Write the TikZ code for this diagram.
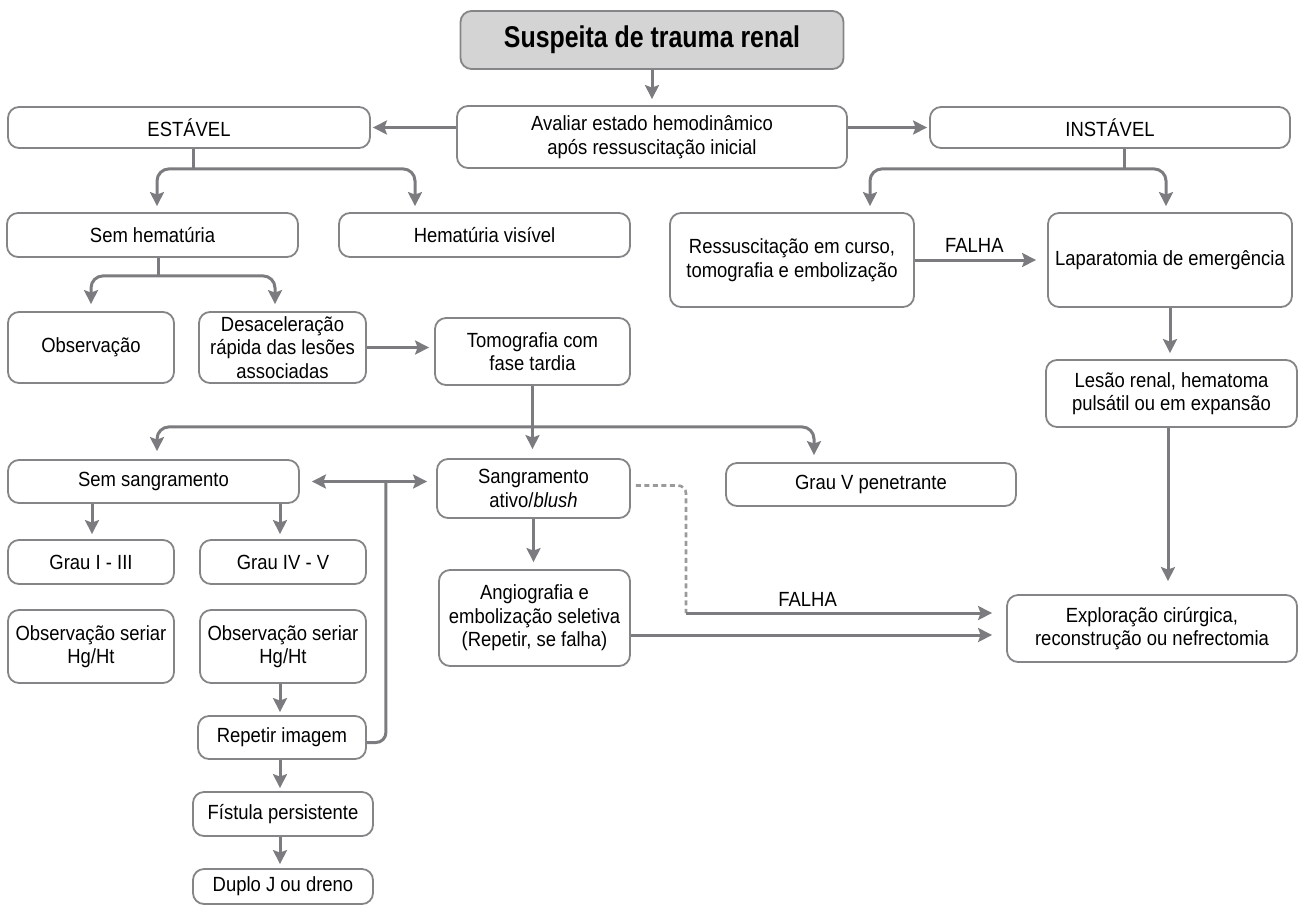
\documentclass[tikz,border=0pt]{standalone}
\usepackage{fontspec}
\setmainfont{Liberation Sans}[FakeStretch=0.9]
\newfontfamily\titlefont{Liberation Sans}[FakeStretch=0.83]
\usetikzlibrary{arrows.meta}
\definecolor{lc}{HTML}{7C7C80}
\definecolor{bc}{HTML}{858588}
\definecolor{dc}{HTML}{9A9A9D}
\definecolor{tf}{HTML}{D4D4D4}
\begin{document}
\begin{tikzpicture}[x=1pt,y=-1pt,
  box/.style={draw=bc, line width=1.8pt, rounded corners=11pt, align=center, inner sep=0pt,
    font=\fontsize{20.5}{23.5}\selectfont, text=black},
  ln/.style={draw=lc, line width=3pt},
  arr/.style={ln, -{Stealth[length=14pt,width=14pt,inset=2.5pt]}},
  rc/.style={rounded corners=12pt},
  lbl/.style={font=\fontsize{20.5}{23.5}\selectfont, inner sep=2pt}
]
\useasboundingbox (0,0) rectangle (1298,906);

% nodes
\node[box, fill=tf, minimum width=383pt, minimum height=58pt, font=\titlefont\bfseries\fontsize{30}{34}\selectfont] (top) at (652,40) {Suspeita de trauma renal};
\node[box, minimum width=390pt, minimum height=62pt] (aval) at (652,137) {Avaliar estado hemodinâmico\\após ressuscitação inicial};
\node[box, minimum width=362pt, minimum height=41pt] (est) at (189,127.5) {ESTÁVEL};
\node[box, minimum width=360pt, minimum height=41pt] (inst) at (1110,127.5) {INSTÁVEL};
\node[box, minimum width=291pt, minimum height=44pt] (semhem) at (152.5,235) {Sem hematúria};
\node[box, minimum width=291pt, minimum height=44pt] (hemvis) at (484.5,235) {Hematúria visível};
\node[box, minimum width=244pt, minimum height=94pt] (ress) at (792,260) {Ressuscitação em curso,\\tomografia e embolização};
\node[box, minimum width=244pt, minimum height=94pt] (lap) at (1170,260) {Laparatomia de emergência};
\node[box, minimum width=166pt, minimum height=71pt] (obs) at (91,347.5) {Observação};
\node[box, minimum width=167pt, minimum height=71pt] (desac) at (282.5,347.5) {Desaceleração\\rápida das lesões\\associadas};
\node[box, minimum width=195pt, minimum height=67pt] (tomo) at (532.5,351.5) {Tomografia com\\fase tardia};
\node[box, minimum width=251pt, minimum height=67pt] (lesao) at (1171.5,393.5) {Lesão renal, hematoma\\pulsátil ou em expansão};
\node[box, minimum width=291pt, minimum height=43pt] (semsang) at (153.5,481.5) {Sem sangramento};
\node[box, minimum width=193pt, minimum height=59pt] (sang) at (533.5,488.5) {Sangramento\\ativo/\textit{blush}};
\node[box, minimum width=290pt, minimum height=43pt] (grauv) at (871,484.5) {Grau V penetrante};
\node[box, minimum width=166pt, minimum height=44pt] (g13) at (91,562) {Grau I - III};
\node[box, minimum width=166pt, minimum height=44pt] (g45) at (283,562) {Grau IV - V};
\node[box, minimum width=166pt, minimum height=73pt] (os1) at (91,646.5) {Observação seriar\\Hg/Ht};
\node[box, minimum width=166pt, minimum height=73pt] (os2) at (283,646.5) {Observação seriar\\Hg/Ht};
\node[box, minimum width=191pt, minimum height=96pt] (angio) at (534.5,618) {Angiografia e\\embolização seletiva\\(Repetir, se falha)};
\node[box, minimum width=290pt, minimum height=67pt] (expl) at (1152,628.5) {Exploração cirúrgica,\\reconstrução ou nefrectomia};
\node[box, minimum width=168pt, minimum height=43pt] (rep) at (282,737.5) {Repetir imagem};
\node[box, minimum width=180pt, minimum height=44pt] (fist) at (283,814) {Fístula persistente};
\node[box, minimum width=180pt, minimum height=35pt] (duplo) at (283,886.5) {Duplo J ou dreno};

% top
\draw[arr, shorten >=6pt] (top.south) -- (top.south |- aval.north);
\draw[arr, shorten >=2pt] (aval.west |- est.east) -- (est.east);
\draw[arr, shorten >=2pt] (aval.east |- inst.west) -- (inst.west);

% estavel branch
\draw[ln] ([xshift=4pt]est.south) -- ++(0,20) coordinate (j1);
\draw[arr, rc, shorten >=6pt] (j1) -| ([xshift=4.5pt]semhem.north);
\draw[arr, rc, shorten >=6pt] (j1) -| ([xshift=-69.5pt]hemvis.north);

% sem hematuria branch
\draw[ln] ([xshift=5.5pt]semhem.south) -- ++(0,18) coordinate (j2);
\draw[arr, rc, shorten >=7pt] (j2) -| (obs.north);
\draw[arr, rc, shorten >=7pt] (j2) -| ([xshift=-7.5pt]desac.north);

% instavel branch
\draw[ln] ([xshift=14pt]inst.south) -- ++(0,20) coordinate (j3);
\draw[arr, rc, shorten >=6pt] (j3) -| ([xshift=78pt]ress.north);
\draw[arr, rc, shorten >=6pt] (j3) -| ([xshift=-4pt]lap.north);

\draw[arr, shorten >=11pt] (ress.east) -- (ress.east -| lap.west)
  node[lbl, pos=0.45, above=4pt] (f1) {FALHA};
\draw[arr, shorten >=6pt] (lap.south) -- (lap.south |- lesao.north);
\draw[arr, shorten >=13pt] ([xshift=-3.5pt]lesao.south) -- ([xshift=16pt]expl.north);

% desaceleracao -> tomografia
\draw[arr, shorten >=5pt] (desac.east) -- (desac.east -| tomo.west);

% tomografia branch
\draw[arr, shorten >=9pt] (tomo.south) -- (tomo.south |- sang.north);
\path (tomo.south) ++(0,41) coordinate (j4);
\draw[arr, rc, shorten >=8pt] (j4) -| ([xshift=3.5pt]semsang.north);
\draw[arr, rc, shorten >=7pt] (j4) -| ([xshift=-57pt]grauv.north);

% two-way arrow and loop from repetir imagem
\path (semsang.east) ++(86,0) coordinate (j5);
\draw[arr, shorten >=12pt] (j5) -- (semsang.east);
\draw[arr, shorten >=9pt] (j5) -- (j5 -| sang.west);
\draw[ln, rounded corners=10pt] ([yshift=-5pt]rep.east) -| (j5);

% sangramento -> angiografia
\draw[arr, shorten >=7pt] (sang.south) -- (sang.south |- angio.north);

% dashed failure path
\coordinate (fk) at (686,613);
\draw[draw=dc, line width=2.6pt, dash pattern=on 5pt off 3.5pt, rounded corners=8pt]
  ([xshift=5pt,yshift=3pt]sang.east) -| (fk);
\draw[arr, shorten >=14pt] (fk) -- (fk -| expl.west)
  node[lbl, pos=0.38, above=3pt] (f2) {FALHA};

% angiografia -> exploracao
\path ([yshift=-17pt]angio.east) coordinate (a2);
\draw[arr, shorten >=14pt] (a2) -- (a2 -| expl.west);

% sem sangramento children
\draw[arr, shorten >=5pt] ([xshift=-61.5pt]semsang.south) -- ([xshift=1pt]g13.north);
\draw[arr, shorten >=5pt] ([xshift=126.5pt]semsang.south) -- ([xshift=-3pt]g45.north);

% chain
\draw[arr, shorten >=3pt] ([xshift=-3pt]os2.south) -- ([xshift=-2pt]rep.north);
\draw[arr, shorten >=3pt] ([xshift=-2pt]rep.south) -- ([xshift=-3pt]fist.north);
\draw[arr, shorten >=4pt] ([xshift=-3pt]fist.south) -- ([xshift=-3pt]duplo.north);
\end{tikzpicture}
\end{document}
